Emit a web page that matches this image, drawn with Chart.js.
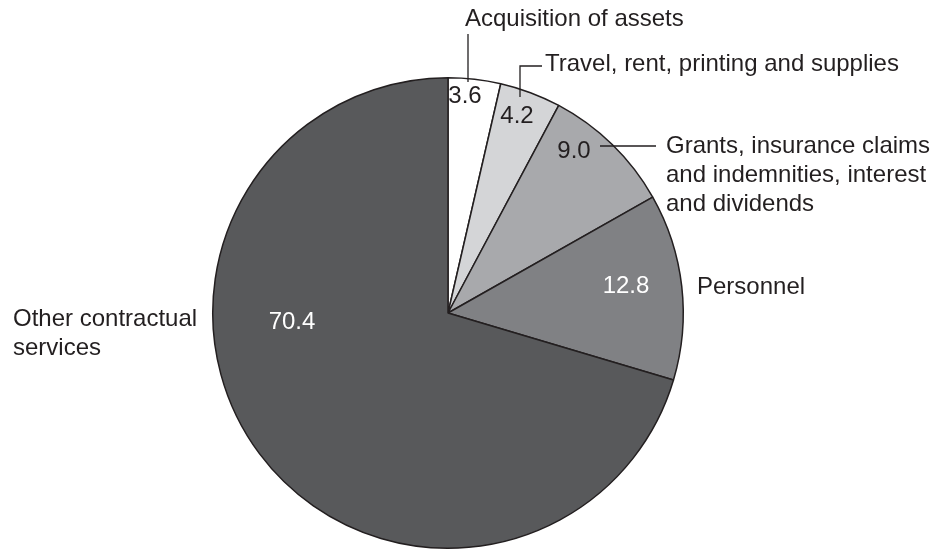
<!DOCTYPE html>
<html>
<head>
<meta charset="utf-8">
<script src="https://cdn.jsdelivr.net/npm/chart.js@4.4.1/dist/chart.umd.min.js"></script>
<style>
  html, body { margin: 0; padding: 0; background: #fff; }
  #wrap { width: 949px; height: 551px; }
</style>
</head>
<body>
<div id="wrap"><canvas id="myChart"></canvas></div>
<script>
// categories and values (percent), clockwise from 12 o'clock
var categories = [
  'Acquisition of assets',
  'Travel, rent, printing and supplies',
  'Grants, insurance claims and indemnities, interest and dividends',
  'Personnel',
  'Other contractual services'
];
var values = [3.6, 4.2, 9.0, 12.8, 70.4];
var valueLabels = ['3.6', '4.2', '9.0', '12.8', '70.4'];

var fills = ['#ffffff', '#d4d5d7', '#a8a9ac', '#808184', '#58595b'];
var valueColors = ['#231f20', '#231f20', '#231f20', '#ffffff', '#ffffff'];

// where the text goes (styling only)
var valuePos = [[465, 96], [517, 116], [574, 151], [626, 286], [292, 322]];
var namePos = [
  { lines: ['Acquisition of assets'], x: 465, y: 19, align: 'left' },
  { lines: ['Travel, rent, printing and supplies'], x: 545, y: 64, align: 'left' },
  { lines: ['Grants, insurance claims', 'and indemnities, interest', 'and dividends'], x: 666, y: 146, align: 'left' },
  { lines: ['Personnel'], x: 697, y: 287, align: 'left' },
  { lines: ['Other contractual', 'services'], x: 13, y: 319, align: 'left' }
];

var labelPlugin = {
  id: 'pieLabels',
  afterDatasetsDraw: function(chart) {
    var c = chart.ctx;
    c.save();
    c.font = '24px "Liberation Sans", Arial, sans-serif';
    c.textBaseline = 'middle';

    // leader lines
    c.strokeStyle = '#231f20';
    c.lineWidth = 1.3;
    c.beginPath();
    c.moveTo(468, 34); c.lineTo(468, 82);
    c.moveTo(520, 97); c.lineTo(520, 66); c.lineTo(542, 66);
    c.moveTo(600, 146); c.lineTo(656, 146);
    c.stroke();

    values.forEach(function(v, i) {
      c.fillStyle = valueColors[i];
      c.textAlign = 'center';
      c.fillText(valueLabels[i], valuePos[i][0], valuePos[i][1]);
    });

    c.fillStyle = '#231f20';
    namePos.forEach(function(n) {
      c.textAlign = n.align;
      n.lines.forEach(function(line, k) {
        c.fillText(line, n.x, n.y + k * 29);
      });
    });
    c.restore();
  }
};

var ctx = document.getElementById('myChart');
var myChart = new Chart(ctx, {
  type: 'pie',
  data: {
    labels: categories,
    datasets: [{
      data: values,
      backgroundColor: fills,
      borderColor: '#231f20',
      borderWidth: 1.5
    }]
  },
  options: {
    responsive: true,
    maintainAspectRatio: false,
    animation: false,
    layout: { padding: { left: 212, right: 265, top: 77, bottom: 2 } },
    plugins: {
      legend: { display: false },
      tooltip: { enabled: false }
    }
  },
  plugins: [labelPlugin]
});
</script>
</body>
</html>
